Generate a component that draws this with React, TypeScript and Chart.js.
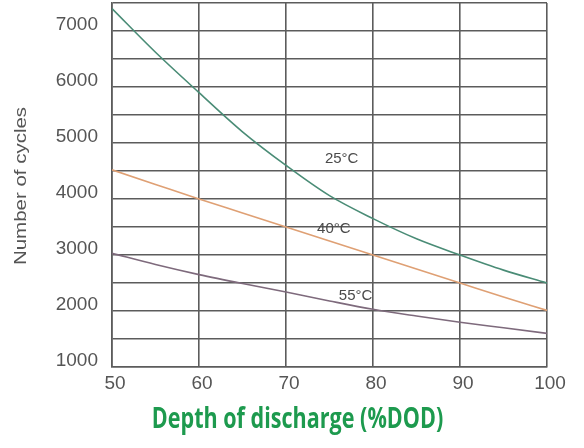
import { useEffect, useRef } from "react";
import { Chart, registerables } from "chart.js";

Chart.register(...registerables);

// depth of discharge (%DOD)
const dod = [50, 55, 60, 65, 70, 75, 80, 85, 90, 95, 100];
const cycles25 = [7400, 6620, 5900, 5200, 4600, 4060, 3650, 3290, 3000, 2730, 2500];
const cycles40 = [4520, 4260, 4000, 3750, 3500, 3250, 3000, 2750, 2500, 2250, 2010];
const cycles55 = [3030, 2830, 2650, 2490, 2340, 2180, 2030, 1910, 1800, 1700, 1600];

const curveLabels = ["25°C", "40°C", "55°C"];
const labelX = [76.4, 75.5, 78.0];
const labelY = [4710, 3460, 2270];

const curveLabelPlugin = {
  id: "curveLabels",
  afterDatasetsDraw(chart: Chart) {
    const { ctx, scales } = chart;
    ctx.save();
    ctx.font = "15px 'Liberation Sans', Arial, sans-serif";
    ctx.fillStyle = "#4a4a4a";
    ctx.textAlign = "center";
    ctx.textBaseline = "middle";
    curveLabels.forEach((t, i) => {
      ctx.fillText(t, scales.x.getPixelForValue(labelX[i]), scales.y.getPixelForValue(labelY[i]));
    });
    ctx.restore();
  },
};

const axisTitlePlugin = {
  id: "axisTitles",
  afterDraw(chart: Chart) {
    const { ctx, chartArea } = chart;
    ctx.save();
    // x title, condensed bold green
    ctx.font = "bold 28px 'Open Sans', sans-serif";
    ctx.fillStyle = "#1d9a4e";
    ctx.textAlign = "center";
    ctx.textBaseline = "middle";
    ctx.translate((chartArea.left + chartArea.right) / 2 - 32, 420);
    ctx.scale(0.77, 1);
    ctx.fillText("Depth of discharge (%DOD)", 0, 0);
    ctx.restore();

    ctx.save();
    ctx.font = "16px 'Liberation Sans', Arial, sans-serif";
    ctx.fillStyle = "#555555";
    ctx.textAlign = "center";
    ctx.textBaseline = "middle";
    ctx.translate(22, 186);
    ctx.rotate(-Math.PI / 2);
    ctx.scale(1.28, 1);
    ctx.fillText("Number of cycles", 0, 0);
    ctx.restore();
  },
};

export default function App() {
  const canvasRef = useRef<HTMLCanvasElement>(null);

  useEffect(() => {
    if (!canvasRef.current) return;
    const gridColor = "#5c5c5c";
    const tickFont = { family: "'Liberation Sans', Arial, sans-serif", size: 19 };

    const chart = new Chart(canvasRef.current, {
      type: "line",
      data: {
        labels: dod,
        datasets: [
          {
            label: "25°C",
            data: dod.map((x, i) => ({ x, y: cycles25[i] })),
            borderColor: "#4a8c76",
            borderWidth: 1.6,
            pointRadius: 0,
            cubicInterpolationMode: "monotone",
          },
          {
            label: "40°C",
            data: dod.map((x, i) => ({ x, y: cycles40[i] })),
            borderColor: "#dfa074",
            borderWidth: 1.6,
            pointRadius: 0,
            cubicInterpolationMode: "monotone",
          },
          {
            label: "55°C",
            data: dod.map((x, i) => ({ x, y: cycles55[i] })),
            borderColor: "#7e6a7c",
            borderWidth: 1.6,
            pointRadius: 0,
            cubicInterpolationMode: "monotone",
          },
        ],
      },
      options: {
        animation: false,
        responsive: false,
        layout: { autoPadding: false, padding: { top: 3, right: 37, left: 0, bottom: 0 } },
        plugins: {
          legend: { display: false },
          tooltip: { enabled: false },
        },
        scales: {
          x: {
            type: "linear",
            min: 50,
            max: 100,
            ticks: { stepSize: 10, color: "#555555", font: tickFont, padding: 5, labelOffset: 3 },
            grid: { color: gridColor, lineWidth: 1.6, drawTicks: false },
            border: { color: gridColor, width: 1.6 },
            afterFit: (scale: any) => {
              scale.height = 81;
              scale.paddingLeft = 0;
              scale.paddingRight = 0;
            },
          },
          y: {
            min: 1000,
            max: 7500,
            ticks: {
              stepSize: 500,
              color: "#555555",
              font: tickFont,
              padding: 14,
              labelOffset: -6,
              callback: (v: any) => (Number(v) % 1000 === 0 ? String(v) : ""),
            },
            grid: { color: gridColor, lineWidth: 1.6, drawTicks: false },
            border: { color: gridColor, width: 1.6 },
            afterFit: (scale: any) => {
              scale.width = 112;
              scale.paddingTop = 0;
              scale.paddingBottom = 0;
            },
          },
        },
      },
      plugins: [curveLabelPlugin, axisTitlePlugin],
    });

    return () => chart.destroy();
  }, []);

  return (
    <div style={{ position: "fixed", left: 0, top: 0, width: 584, height: 448, background: "#fff" }}>
      <canvas ref={canvasRef} width={584} height={448} />
    </div>
  );
}
